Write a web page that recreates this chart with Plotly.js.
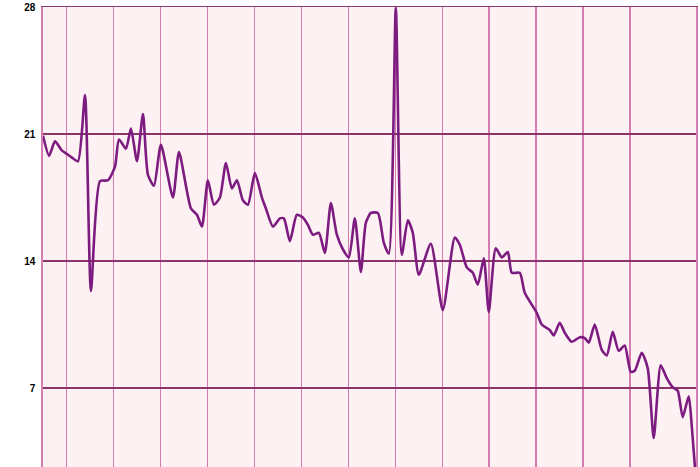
<!DOCTYPE html>
<html>
<head>
<meta charset="utf-8">
<script src="https://cdn.plot.ly/plotly-3.0.1.min.js"></script>
<style>html,body{margin:0;padding:0;background:#fff;}#chart{width:700px;height:467px;}</style>
</head>
<body>
<div id="chart"></div>
<script>
var xValues = [-5.0,-3.7,-2.45,-1.0,0.1,1.17,2.45,3.94,5.21,7.13,8.83,10.32,11.17,12.66,13.72,15.0,16.28,17.34,18.62,20.1,
  22.66,23.94,26.49,27.77,28.83,30.1,31.38,32.66,33.94,35.21,36.28,37.55,38.62,40.1,41.6,42.45,43.94,45.43,46.28,47.55,
  49.04,50.32,51.38,52.45,53.72,55.0,56.28,57.55,58.83,60.1,61.38,62.66,63.72,64.79,66.28,67.55,68.62,70.1,71.38,72.66,
  73.72,75.0,77.55,80.1,82.66,83.72,85.21,86.49,87.55,88.83,89.89,91.38,92.66,93.94,94.79,96.49,97.55,100.1,101.17,102.87,
  103.72,105.0,106.06,107.55,109.26,110.32,111.17,112.45,113.94,115.0,116.28,117.55,118.83,120.1,120.96,122.45,123.72,125.0,126.49,127.77,
  129.04,130.11,131.17,132.45,133.09,134.0];
var yValues = [20.9,19.8,20.6,20.1,19.9,19.7,19.5,23.15,12.35,18.4,18.45,19.2,20.7,20.2,21.3,19.5,22.1,18.75,18.15,20.4,
  17.5,20.0,16.9,16.55,15.9,18.45,17.1,17.5,19.4,18.0,18.45,17.35,17.1,18.85,17.5,16.9,15.9,16.35,16.35,15.1,
  16.55,16.4,16.0,15.45,15.55,14.45,17.2,15.45,14.65,14.2,16.35,13.4,16.1,16.65,16.65,15.0,14.4,27.95,14.35,16.25,
  15.55,13.25,14.95,11.3,15.3,14.9,13.65,13.35,12.7,14.15,11.2,14.7,14.2,14.5,13.35,13.35,12.25,11.15,10.5,10.2,
  9.9,10.6,10.05,9.55,9.8,9.75,9.5,10.5,9.1,8.8,10.1,9.05,9.35,7.9,7.95,8.95,8.1,4.25,8.25,7.55,
  7.05,6.85,5.4,6.55,4.95,1.9];
var yTicks = [7, 14, 21, 28];
var xGrid = [0, 10, 20, 30, 40, 50, 60, 70, 80, 90, 100, 110, 120];

var trace = {
  x: xValues, y: yValues, type: 'scatter', mode: 'lines',
  line: {color: '#7D1C80', width: 2.6, shape: 'spline', smoothing: 0.6},
  hoverinfo: 'none'
};
var layout = {
  width: 700, height: 467,
  margin: {l: 43, r: 4, t: 7, b: 0, pad: 0},
  paper_bgcolor: '#ffffff',
  plot_bgcolor: '#FDF1F3',
  showlegend: false,
  xaxis: {
    range: [-5, 134], tickvals: xGrid, showticklabels: false, ticks: '',
    showgrid: true, gridcolor: '#D47DB2', gridwidth: 1.6, zeroline: false,
    showline: true, mirror: true, linecolor: '#8C3A6A', linewidth: 1.3
  },
  yaxis: {
    range: [2.65, 28], tickvals: yTicks, ticktext: yTicks.map(String), ticks: '',
    ticklabelstandoff: 4,
    tickfont: {family: 'Liberation Sans, Arial, sans-serif', size: 10, color: '#000000', weight: 'bold'},
    showgrid: true, gridcolor: '#8A3468', gridwidth: 1.2, zeroline: false,
    showline: true, mirror: true, linecolor: '#D47DB2', linewidth: 1.6
  }
};
Plotly.newPlot('chart', [trace], layout, {staticPlot: true, displayModeBar: false});
</script>
</body>
</html>
